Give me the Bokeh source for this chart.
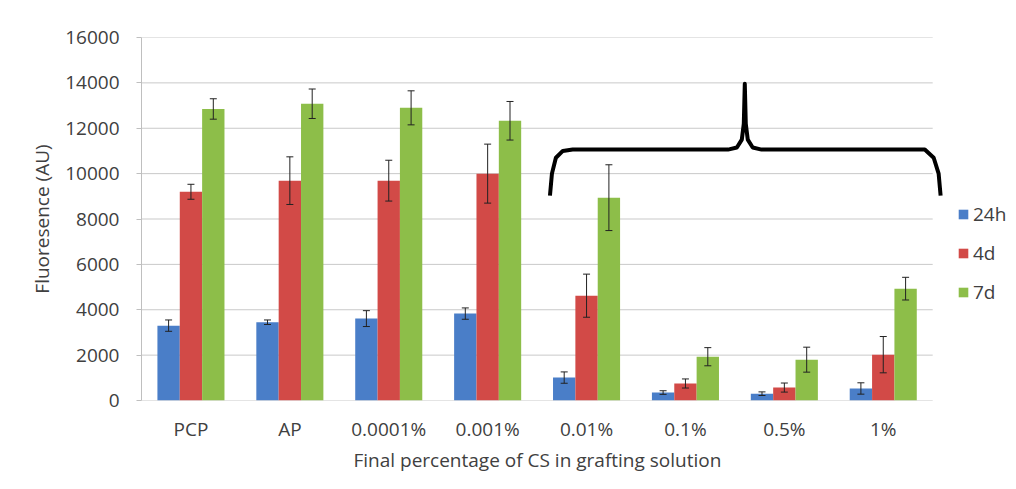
import numpy as np
from bokeh.plotting import figure
from bokeh.models import (ColumnDataSource, Range1d, FixedTicker, Whisker, TeeHead,
                          Legend, LegendItem, NumeralTickFormatter, Title)
from bokeh.embed import file_html
from bokeh.resources import INLINE

# ---------------- data ----------------
categories = ["PCP", "AP", "0.0001%", "0.001%", "0.01%", "0.1%", "0.5%", "1%"]
series_names = ["24h", "4d", "7d"]
vals_24h = [3300, 3450, 3610, 3830, 1010, 350, 300, 530]
vals_4d = [9200, 9690, 9690, 10000, 4620, 750, 570, 2020]
vals_7d = [12850, 13080, 12900, 12330, 8940, 1930, 1800, 4930]
err_24h = [250, 100, 350, 250, 250, 80, 80, 250]
err_4d = [330, 1050, 900, 1300, 950, 200, 200, 800]
err_7d = [450, 650, 750, 850, 1450, 400, 550, 500]
y_ticks = [0, 2000, 4000, 6000, 8000, 10000, 12000, 14000, 16000]
x_title = "Final percentage of CS in  grafting solution"
y_title = "Fluoresence (AU)"

# brace annotation (in data units: category index / fluorescence)
brace_x = [4.13, 4.15, 4.19, 4.26, 4.36, 5.93, 6.02, 6.07, 6.09, 6.10,
           6.11, 6.13, 6.18, 6.27, 7.92, 8.01, 8.06, 8.08]
brace_y = [9030, 10000, 10700, 11000, 11060, 11060, 11150, 11500, 12200, 13960,
           12200, 11500, 11150, 11060, 11060, 10700, 10000, 9030]

colors = ["#4A7EC8", "#D24A47", "#8DBE49"]
FONT = "Open Sans"
TXT = "#404040"
FS = "19px"

n = len(categories)
centers = np.arange(n) + 0.5
bar_w = 0.226
offsets = [-bar_w, 0.0, bar_w]

W, H = 1008, 475
left_b, top_b, bottom_b = 141, 37, 75
x_end = (W - left_b) / 98.9

p = figure(width=W, height=H, output_backend="svg", toolbar_location=None,
           x_range=Range1d(0, x_end), y_range=Range1d(0, 16000),
           min_border_left=left_b, min_border_right=0, min_border_top=top_b,
           min_border_bottom=bottom_b)
p.outline_line_color = None
p.xgrid.visible = False
p.ygrid.visible = False
p.background_fill_color = "white"
p.border_fill_color = "white"

# gridlines limited to the category span
grid_src = ColumnDataSource(dict(x0=[0] * len(y_ticks), x1=[n] * len(y_ticks), y=y_ticks))
p.segment(x0="x0", y0="y", x1="x1", y1="y", source=grid_src, line_color="#c9c9c9", line_width=1)

series = [vals_24h, vals_4d, vals_7d]
errs = [err_24h, err_4d, err_7d]
renderers = []
for k in range(3):
    v = np.array(series[k], dtype=float)
    e = np.array(errs[k], dtype=float)
    src = ColumnDataSource(dict(x=centers + offsets[k], top=v, upper=v + e, lower=v - e))
    r = p.vbar(x="x", top="top", width=bar_w, source=src, fill_color=colors[k],
               line_color=None)
    renderers.append(r)
    w = Whisker(base="x", upper="upper", lower="lower", source=src, line_color="#222222",
                line_width=1, level="annotation",
                upper_head=TeeHead(size=7, line_color="#222222", line_width=1),
                lower_head=TeeHead(size=7, line_color="#222222", line_width=1))
    p.add_layout(w)

# brace
p.line(x=brace_x, y=brace_y, line_color="black", line_width=4, line_join="round")

# y axis
ya = p.yaxis[0]
ya.ticker = FixedTicker(ticks=y_ticks)
ya.formatter = NumeralTickFormatter(format="0")
ya.axis_line_color = "#bfbfbf"
ya.major_tick_line_color = "#bfbfbf"
ya.major_tick_out = 5
ya.major_tick_in = 0
ya.minor_tick_line_color = None
ya.major_label_text_font = FONT
ya.major_label_text_font_size = FS
ya.major_label_text_color = TXT
ya.major_label_standoff = 17
ya.axis_label = y_title
ya.axis_label_text_font = FONT
ya.axis_label_text_font_size = FS
ya.axis_label_text_font_style = "normal"
ya.axis_label_text_color = TXT
ya.axis_label_standoff = 7

# x axis
xa = p.xaxis[0]
xa.ticker = FixedTicker(ticks=list(centers))
xa.major_label_overrides = {float(c): lab for c, lab in zip(centers, categories)}
xa.axis_line_color = None
xa.major_tick_line_color = None
xa.minor_tick_line_color = None
xa.major_label_text_font = FONT
xa.major_label_text_font_size = FS
xa.major_label_text_color = TXT
xa.major_label_standoff = 9

# x-axis title centred under the category span (as in the original)
p.add_layout(Title(text=x_title, align="left", offset=212, standoff=0,
                   text_font=FONT, text_font_size=FS, text_font_style="normal",
                   text_color=TXT), "below")

legend = Legend(items=[LegendItem(label=series_names[k], renderers=[renderers[k]]) for k in range(3)],
                location=(816, 95), glyph_width=12, glyph_height=12, label_standoff=4,
                spacing=13, padding=0, margin=0, border_line_color=None,
                background_fill_alpha=0, label_text_font=FONT, label_text_font_size=FS,
                label_text_color=TXT)
p.add_layout(legend)

open("out.html", "w").write(file_html(p, INLINE))
